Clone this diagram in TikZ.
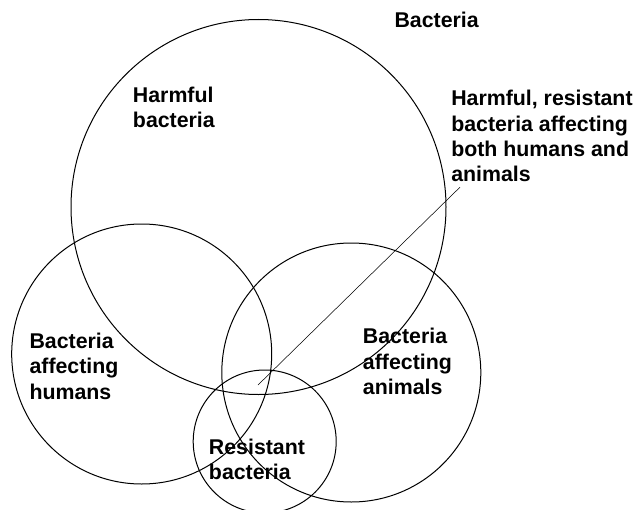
\documentclass[tikz,border=0pt]{standalone}
\usepackage{fontspec}
\setmainfont{Liberation Sans}
\usepackage{tikz}

\begin{document}
\begin{tikzpicture}[x=0.75pt, y=-0.75pt,
  ring/.style={draw=black, line width=0.75pt},
  caption/.style={anchor=north west, inner sep=0pt, align=left, font=\fontsize{16}{19}\selectfont\bfseries}]
  \useasboundingbox (0,0) rectangle (639,510);
  % the four sets
  \draw[ring] (258.5,207) circle[radius=187.5];
  \draw[ring] (141.7,354) circle[radius=130];
  \draw[ring] (351.3,372.5) circle[radius=129.5];
  \draw[ring] (264.7,441.5) circle[radius=71.5];
  % texts
  \node[caption] (all) at (394.3,11.7) {Bacteria};
  \node[caption] (harmful) at (132.7,86.7) {Harmful\\bacteria};
  \node[caption] (humans) at (29.3,332.7) {Bacteria\\affecting\\humans};
  \node[caption] (animals) at (362.7,328) {Bacteria\\affecting\\animals};
  \node[caption] (resistant) at (208.7,438.3) {Resistant\\bacteria};
  \node[caption] (note) at (451,90) {Harmful, resistant\\bacteria affecting\\both humans and\\animals};
  % pointer into the common part
  \coordinate (core) at (258,385);
  \draw[line width=0.4pt] ([xshift=6.75pt, yshift=-3.75pt]note.south west) -- (core);
\end{tikzpicture}
\end{document}
